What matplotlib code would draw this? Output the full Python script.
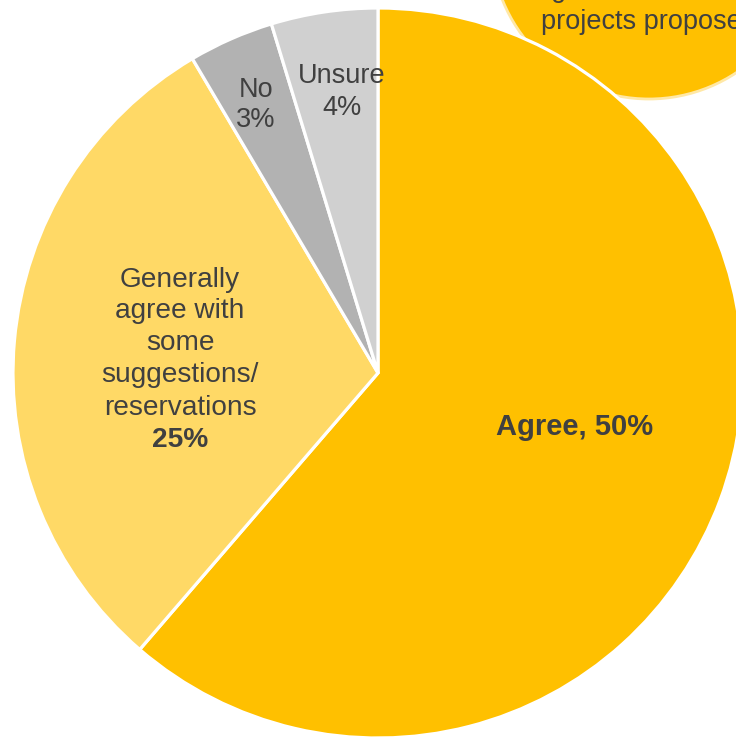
import matplotlib
matplotlib.use("Agg")
import matplotlib.pyplot as plt
from matplotlib.patches import Circle

categories = ["Agree", "Generally agree with some suggestions/ reservations", "No", "Unsure"]
counts = [65, 32, 4, 5]
pct_labels = ["50%", "25%", "3%", "4%"]
colors = ["#FFC000", "#FFD966", "#B2B2B2", "#D0D0D0"]
bubble_lines = ["agree with existing", "projects proposed"]

W, H = 736, 737
fig = plt.figure(figsize=(W / 100, H / 100), dpi=100)
ax = fig.add_axes([0, 0, 1, 1])

plt.rcParams["font.family"] = ["Liberation Sans", "DejaVu Sans"]
txt = "#404040"

cx, cy, r = 378, H - 373, 365

# callout bubble (behind the pie)
bub = Circle((649, H + 59), 158, facecolor="#FFC000", edgecolor="#FFE8A6",
             linewidth=2.0, zorder=1)
ax.add_patch(bub)

wedges, _ = ax.pie(counts, colors=colors, startangle=90, counterclock=False,
                   center=(cx, cy), radius=r, frame=True,
                   wedgeprops=dict(edgecolor="white", linewidth=2.3))
for w in wedges:
    w.set_zorder(2)
ax.set_xlim(0, W)
ax.set_ylim(0, H)
ax.set_aspect("equal")
ax.axis("off")


def lines(x, baselines, texts, size, bold_last=False):
    for i, (b, t) in enumerate(zip(baselines, texts)):
        bold = bold_last and i == len(texts) - 1
        ax.text(x, H - b, t, ha="center", va="baseline", fontsize=size,
                fontweight="bold" if bold else "normal", color=txt, zorder=5)


ax.text(575, H - 435, f"{categories[0]}, {pct_labels[0]}", ha="center", va="baseline",
        fontsize=21, fontweight="bold", color=txt, zorder=5)
lines(180, [287, 318, 350, 382, 415, 447],
      ["Generally", "agree with", "some", "suggestions/", "reservations", pct_labels[1]],
      20.2, bold_last=True)
lines(256, [97, 127], [categories[2], pct_labels[2]], 19.5)
lines(342, [83, 115], [categories[3], pct_labels[3]], 19.5)
lines(649, [-3, 29], bubble_lines, 19.5)

fig.savefig("out.png", dpi=100)
